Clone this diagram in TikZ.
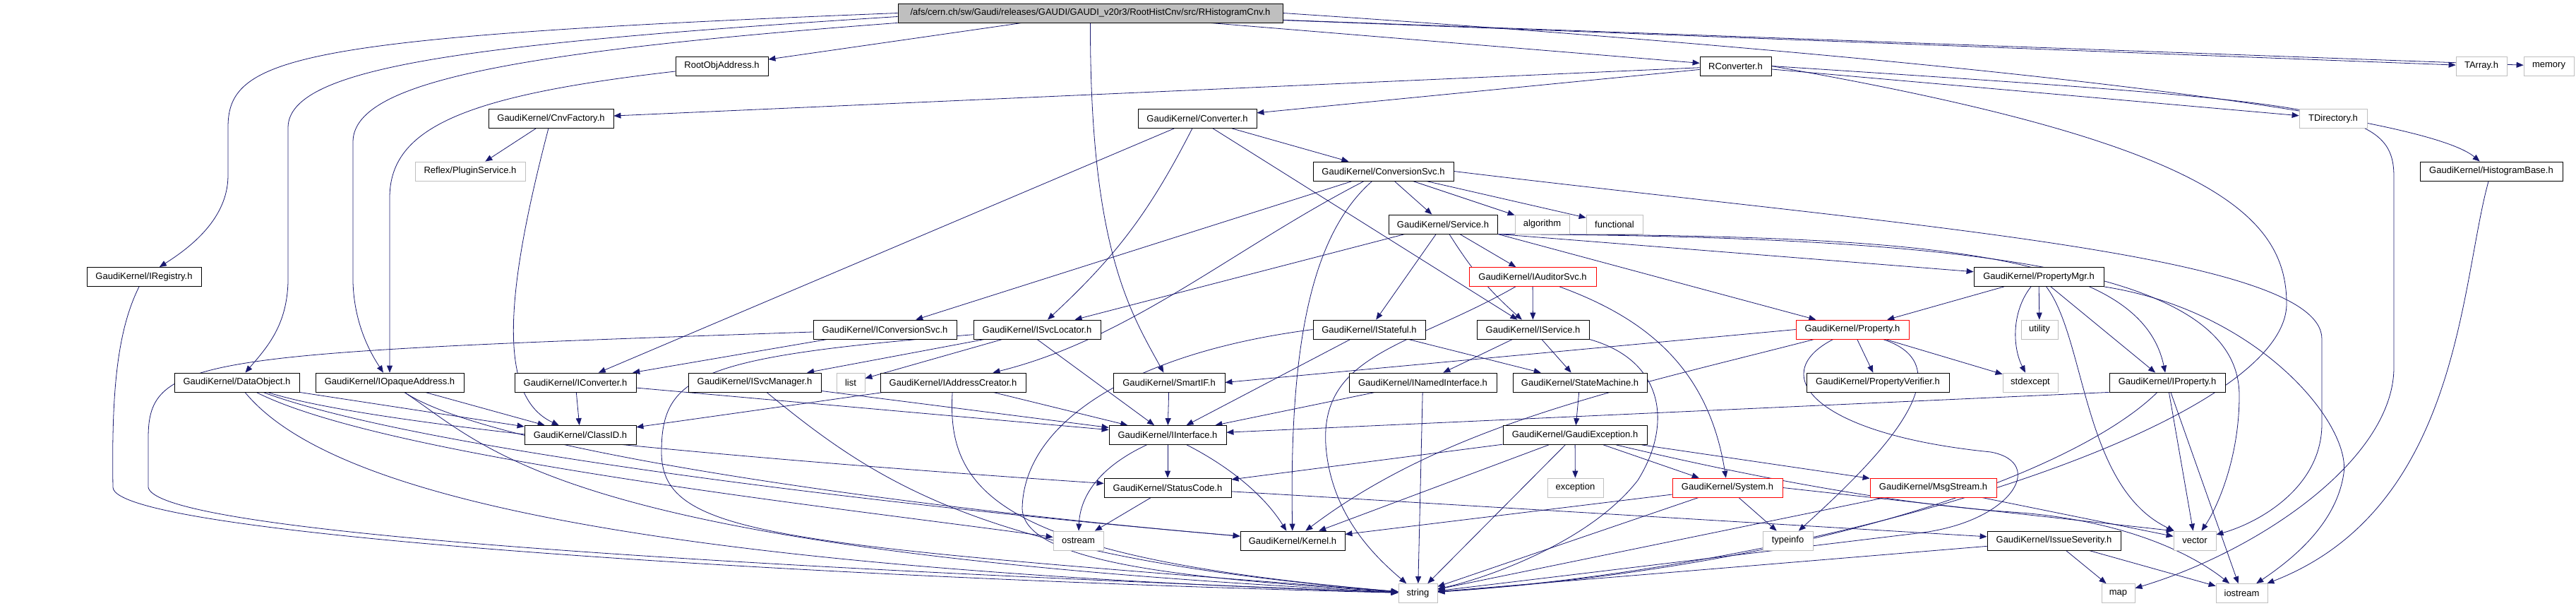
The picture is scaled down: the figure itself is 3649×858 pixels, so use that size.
\documentclass[tikz,border=0pt]{standalone}
\usepackage{fontspec}
\setmainfont{Liberation Sans}
\usepackage{tikz}
\usetikzlibrary{arrows.meta,backgrounds}
\definecolor{edgeblue}{HTML}{191970}
\definecolor{boxgray}{HTML}{BFBFBF}

\begin{document}
\begin{tikzpicture}[
  x=1pt, y=-1pt,
  font=\fontsize{13}{15}\selectfont,
  hdr/.style={draw=black, fill=white, line width=0.8pt, minimum height=27pt, inner sep=0pt},
  ext/.style={hdr, draw=boxgray},
  trn/.style={hdr, draw=red},
  focus/.style={hdr, fill=boxgray},
  dep/.style={draw=edgeblue, line width=0.8pt, -{Triangle[length=10pt,width=8pt]}},
]
\useasboundingbox (0,0) rectangle (3649,858);
\node[focus, minimum width=545pt] (main) at (1544.5,18.5) {/afs/cern.ch/sw/Gaudi/releases/GAUDI/GAUDI\_v20r3/RootHistCnv/src/RHistogramCnv.h};
\node[hdr, minimum width=131pt] (rootobj) at (1022.5,93.5) {RootObjAddress.h};
\node[hdr, minimum width=101pt] (rconv) at (2458.5,93.5) {RConverter.h};
\node[ext, minimum width=72pt] (tarray) at (3515,93.5) {TArray.h};
\node[ext, minimum width=71pt] (memory) at (3610.5,93.5) {memory};
\node[hdr, minimum width=177pt] (cnvfac) at (780.5,168) {GaudiKernel/CnvFactory.h};
\node[hdr, minimum width=168pt] (conv) at (1696,168) {GaudiKernel/Converter.h};
\node[ext, minimum width=96pt] (tdir) at (3305,168) {TDirectory.h};
\node[ext, minimum width=156pt] (plugin) at (666,242.5) {Reflex/PluginService.h};
\node[hdr, minimum width=199pt] (convsvc) at (1959.5,242.5) {GaudiKernel/ConversionSvc.h};
\node[hdr, minimum width=202pt] (histbase) at (3529,242.5) {GaudiKernel/HistogramBase.h};
\node[hdr, minimum width=154pt] (service) at (2044,317.5) {GaudiKernel/Service.h};
\node[ext, minimum width=77pt] (algorithm) at (2184.5,317.5) {algorithm};
\node[ext, minimum width=80pt] (functional) at (2287,317.5) {functional};
\node[hdr, minimum width=162pt] (iregistry) at (204,392) {GaudiKernel/IRegistry.h};
\node[trn, minimum width=180pt] (iauditor) at (2171,392) {GaudiKernel/IAuditorSvc.h};
\node[hdr, minimum width=184pt] (propmgr) at (2888,392) {GaudiKernel/PropertyMgr.h};
\node[hdr, minimum width=203pt] (iconvsvc) at (1253.5,466.5) {GaudiKernel/IConversionSvc.h};
\node[hdr, minimum width=180pt] (isvcloc) at (1469,466.5) {GaudiKernel/ISvcLocator.h};
\node[hdr, minimum width=159pt] (istateful) at (1939.5,466.5) {GaudiKernel/IStateful.h};
\node[hdr, minimum width=159pt] (iservice) at (2171.5,466.5) {GaudiKernel/IService.h};
\node[trn, minimum width=160pt] (property) at (2624,466.5) {GaudiKernel/Property.h};
\node[ext, minimum width=52pt] (utility) at (2889,466.5) {utility};
\node[hdr, minimum width=177pt] (dataobj) at (335.5,541.5) {GaudiKernel/DataObject.h};
\node[hdr, minimum width=210pt] (iopaque) at (552,541.5) {GaudiKernel/IOpaqueAddress.h};
\node[hdr, minimum width=172pt] (iconverter) at (815,541.5) {GaudiKernel/IConverter.h};
\node[hdr, minimum width=188pt] (isvcmgr) at (1069,541.5) {GaudiKernel/ISvcManager.h};
\node[ext, minimum width=40pt] (list) at (1205,541.5) {list};
\node[hdr, minimum width=206pt] (iaddr) at (1350,541.5) {GaudiKernel/IAddressCreator.h};
\node[hdr, minimum width=158pt] (smartif) at (1656,541.5) {GaudiKernel/SmartIF.h};
\node[hdr, minimum width=209pt] (inamed) at (2015.5,541.5) {GaudiKernel/INamedInterface.h};
\node[hdr, minimum width=190pt] (statemach) at (2238,541.5) {GaudiKernel/StateMachine.h};
\node[hdr, minimum width=202pt] (propverif) at (2660,541.5) {GaudiKernel/PropertyVerifier.h};
\node[ext, minimum width=78pt] (stdexcept) at (2876,541.5) {stdexcept};
\node[hdr, minimum width=164pt] (iproperty) at (3070,541.5) {GaudiKernel/IProperty.h};
\node[hdr, minimum width=158pt] (classid) at (822,616) {GaudiKernel/ClassID.h};
\node[hdr, minimum width=166pt] (iinterface) at (1654,616) {GaudiKernel/IInterface.h};
\node[hdr, minimum width=204pt] (gaudiexc) at (2231,616) {GaudiKernel/GaudiException.h};
\node[hdr, minimum width=180pt] (statuscode) at (1654,690.5) {GaudiKernel/StatusCode.h};
\node[ext, minimum width=79pt] (exception) at (2231.5,690.5) {exception};
\node[trn, minimum width=156pt] (system) at (2447,690.5) {GaudiKernel/System.h};
\node[trn, minimum width=179pt] (msgstream) at (2738.5,690.5) {GaudiKernel/MsgStream.h};
\node[ext, minimum width=71pt] (ostream) at (1527.5,765.5) {ostream};
\node[hdr, minimum width=148pt] (kernel) at (1831,765.5) {GaudiKernel/Kernel.h};
\node[ext, minimum width=71pt] (typeinfo) at (2532.5,765.5) {typeinfo};
\node[hdr, minimum width=189pt] (issuesev) at (2909.5,765.5) {GaudiKernel/IssueSeverity.h};
\node[ext, minimum width=60pt] (vector) at (3109,765.5) {vector};
\node[ext, minimum width=55pt] (string) at (2008.5,840) {string};
\node[ext, minimum width=47pt] (map) at (3000.5,840) {map};
\node[ext, minimum width=73pt] (iostream) at (3175.5,840) {iostream};

\begin{scope}[on background layer]
% includes of the converter header
\draw[dep] (main) -- (rootobj);
\draw[dep] (main) -- (rconv);
\draw[dep] (main) -- (tarray);
\draw[dep] (main) -- (memory);
\draw[dep] (main.east) .. controls (2600,70) and (3420,150) .. (histbase);
\draw[dep] (main.west) .. controls (420,52) and (323,80) .. (323,180) -- (323,250) .. controls (322,310) and (270,350) .. (iregistry);
\draw[dep] ([yshift=-5pt]main.west) .. controls (660,62) and (410,95) .. (408,180) -- (408,400) .. controls (406,460) and (380,490) .. (dataobj);
\draw[dep] (main.south west) .. controls (700,75) and (502,120) .. (500,200) -- (500,400) .. controls (502,460) and (525,500) .. (iopaque);
\draw[dep] (main) .. controls (1544,350) and (1600,440) .. (smartif);
\draw[dep] (rootobj) .. controls (660,135) and (552,180) .. (552,280) -- (iopaque);
\draw[dep] (rconv) -- (cnvfac);
\draw[dep] (rconv) -- (conv);
\draw[dep] (rconv) -- (tdir);
\draw[dep] (rconv.east) .. controls (3300,145) and (3391,150) .. (3391,250) -- (3391,520) .. controls (3391,650) and (3200,780) .. (map);
\draw[dep] (rconv.east) .. controls (3120,200) and (3239,300) .. (3239,430) .. controls (3239,600) and (2600,800) .. (string);
\draw[dep] (cnvfac) -- (plugin);
\draw[dep] (cnvfac) .. controls (720,400) and (700,560) .. (classid);
\draw[dep] (conv) -- (iconverter);
\draw[dep] (conv) to[bend left=10] (isvcloc);
\draw[dep] (conv) -- (iservice);
\draw[dep] (conv) -- (convsvc);
\draw[dep] (convsvc) -- (iconvsvc);
\draw[dep] (convsvc) .. controls (1750,350) and (1600,480) .. (iaddr);
\draw[dep] (convsvc) .. controls (1860,330) and (1826,480) .. (kernel);
\draw[dep] (convsvc) -- (service);
\draw[dep] (convsvc) -- (algorithm);
\draw[dep] (convsvc) -- (functional);
\draw[dep] (convsvc.east) .. controls (2700,320) and (3289,360) .. (3289,480) -- (3289,600) .. controls (3289,690) and (3200,740) .. (vector);
\draw[dep] (service) -- (isvcloc);
\draw[dep] (service) -- (istateful);
\draw[dep] (service) to[bend right=8] (iservice);
\draw[dep] (service) -- (iauditor);
\draw[dep] (service.south east) -- (property);
\draw[dep] (service.south east) .. controls (2700,333) and (3030,350) .. (iproperty);
\draw[dep] (service.south east) -- (propmgr);
\draw[dep] (service.south east) .. controls (2800,335) and (3172,380) .. (3172,560) .. controls (3172,650) and (3140,720) .. (vector);
\draw[dep] (iauditor) -- (iservice);
\draw[dep] (iauditor) .. controls (2000,490) and (1870,500) .. (1878,630) .. controls (1885,730) and (1950,790) .. (string);
\draw[dep] (iauditor) .. controls (2330,450) and (2420,520) .. (system);
\draw[dep] (isvcloc.south) -- (iinterface);
\draw[dep] (isvcloc) -- (isvcmgr);
\draw[dep] (isvcloc) -- (list);
\draw[dep] (isvcloc) .. controls (990,505) and (937,530) .. (937,640) .. controls (937,760) and (1100,770) .. (string);
\draw[dep] (iconvsvc) -- (iconverter);
\draw[dep] (iconvsvc) .. controls (280,500) and (210,505) .. (210,620) -- (210,690) .. controls (220,740) and (700,790) .. (string);
\draw[dep] (iregistry) .. controls (165,470) and (158,560) .. (160,690) .. controls (162,760) and (1200,820) .. (string);
\draw[dep] (istateful) -- (iinterface);
\draw[dep] (istateful) -- (statemach);
\draw[dep] (istateful.west) .. controls (1600,500) and (1450,600) .. (1448,720) .. controls (1450,800) and (1700,820) .. (string);
\draw[dep] (iservice) -- (inamed);
\draw[dep] (iservice) -- (statemach);
\draw[dep] (iservice.south east) .. controls (2357,510) and (2370,600) .. (2320,680) .. controls (2250,770) and (2100,820) .. (string);
\draw[dep] (property) -- (propverif);
\draw[dep] (property) -- (stdexcept);
\draw[dep] (property.west) -- (smartif.east);
\draw[dep] (property) .. controls (2300,550) and (2050,600) .. (kernel);
\draw[dep] (property) .. controls (2500,530) and (2570,615) .. (2820,640) .. controls (2900,655) and (2850,740) .. (2716,755) -- (string);
\draw[dep] (property) .. controls (2790,520) and (2660,650) .. (typeinfo);
\draw[dep] (propmgr) -- (property);
\draw[dep] (propmgr) -- (utility);
\draw[dep] (propmgr) .. controls (2850,440) and (2850,490) .. (stdexcept);
\draw[dep] (propmgr) -- (iproperty);
\draw[dep] (propmgr) .. controls (2955,480) and (2950,690) .. (vector);
\draw[dep] (propmgr.south east) .. controls (3200,440) and (3330,600) .. (3320,670) .. controls (3310,740) and (3250,790) .. (iostream);
\draw[dep] (dataobj.south east) -- (classid);
\draw[dep] (dataobj) .. controls (550,610) and (1200,660) .. (statuscode);
\draw[dep] (dataobj) .. controls (600,640) and (1300,720) .. (kernel);
\draw[dep] (dataobj) .. controls (550,650) and (1200,720) .. (ostream);
\draw[dep] (dataobj) .. controls (450,680) and (800,800) .. (string);
\draw[dep] (iopaque) -- (classid);
\draw[dep] (iopaque) .. controls (700,640) and (1300,720) .. (kernel);
\draw[dep] (iopaque) .. controls (700,640) and (800,780) .. (string);
\draw[dep] (iconverter) -- (classid);
\draw[dep] (iconverter) -- (iinterface);
\draw[dep] (isvcmgr) -- (iinterface);
\draw[dep] (isvcmgr) .. controls (1250,690) and (1400,790) .. (string);
\draw[dep] (iaddr) -- (classid);
\draw[dep] (iaddr) -- (iinterface);
\draw[dep] (iaddr) .. controls (1340,700) and (1420,790) .. (string);
\draw[dep] (smartif) -- (iinterface);
\draw[dep] (inamed) -- (iinterface);
\draw[dep] (inamed) -- (string);
\draw[dep] (statemach) -- (gaudiexc);
\draw[dep] (iproperty.south west) -- (iinterface);
\draw[dep] (iproperty) .. controls (2950,660) and (2600,800) .. (string);
\draw[dep] (iproperty) -- (vector);
\draw[dep] (iproperty) -- (iostream);
\draw[dep] (iinterface) -- (statuscode);
\draw[dep] (iinterface) .. controls (1560,660) and (1530,700) .. (ostream);
\draw[dep] (iinterface) .. controls (1740,660) and (1790,700) .. (kernel);
\draw[dep] (gaudiexc) -- (statuscode);
\draw[dep] (gaudiexc) -- (kernel);
\draw[dep] (gaudiexc) -- (string);
\draw[dep] (gaudiexc) -- (exception);
\draw[dep] (gaudiexc) -- (system);
\draw[dep] (gaudiexc) -- (msgstream);
\draw[dep] (gaudiexc) .. controls (2500,680) and (2700,715) .. (2850,725) .. controls (3000,735) and (3100,780) .. (iostream);
\draw[dep] (statuscode) -- (ostream);
\draw[dep] (statuscode) -- (issuesev);
\draw[dep] (system) -- (kernel);
\draw[dep] (system) -- (string);
\draw[dep] (system) -- (typeinfo);
\draw[dep] (system.east) -- (vector.north west);
\draw[dep] (msgstream) -- (string);
\draw[dep] (msgstream) -- (vector);
\draw[dep] (issuesev) -- (map);
\draw[dep] (issuesev) -- (iostream);
\draw[dep] (issuesev) -- (string);
\draw[dep] (histbase) .. controls (3485,400) and (3485,720) .. (iostream);
\end{scope}
\end{tikzpicture}
\end{document}
